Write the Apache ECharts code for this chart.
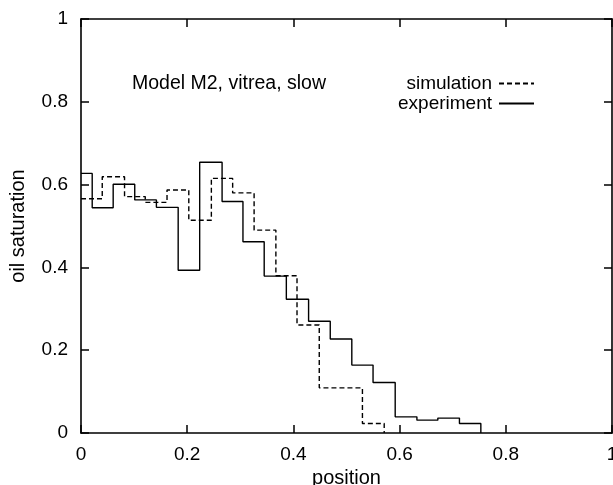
<!DOCTYPE html>
<html>
<head>
<meta charset="utf-8">
<script src="https://cdn.jsdelivr.net/npm/echarts@6/dist/echarts.min.js"></script>
<style>
  html, body { margin: 0; padding: 0; background: #fff; }
  #main { width: 613px; height: 485px; }
</style>
</head>
<body>
<div id="main"></div>
<script>
// bin left edges (last entry = right edge of last bin) and oil saturation per bin
var simEdges = [0, 0.04, 0.082, 0.121, 0.162, 0.203, 0.2455, 0.2856, 0.326, 0.367, 0.4068, 0.4487, 0.490, 0.530, 0.571];
var simValues = [0.566, 0.619, 0.571, 0.557, 0.587, 0.514, 0.615, 0.580, 0.490, 0.380, 0.261, 0.109, 0.109, 0.023];

var expEdges = [0, 0.0211, 0.0606, 0.1012, 0.142, 0.183, 0.2235, 0.2657, 0.305, 0.345, 0.3867, 0.4286, 0.4694, 0.510, 0.550, 0.5917, 0.6326, 0.672, 0.7127, 0.753];
var expValues = [0.627, 0.544, 0.601, 0.563, 0.545, 0.393, 0.654, 0.559, 0.462, 0.379, 0.323, 0.270, 0.227, 0.164, 0.122, 0.039, 0.031, 0.036, 0.023];

function steps(edges, values) {
    return edges.map(function (x, i) {
        return [x, i < values.length ? values[i] : 0];
    });
}

var font = 'Liberation Sans';
var axisLine = { show: true, onZero: false, lineStyle: { color: '#000', width: 1.6 } };
var axisTick = { show: true, inside: true, length: 8, lineStyle: { color: '#000', width: 1.5 } };

var chart = echarts.init(document.getElementById('main'));
chart.setOption({
    animation: false,
    backgroundColor: '#fff',
    title: {
        text: 'Model M2, vitrea, slow',
        left: 132,
        top: 74,
        padding: 0,
        textStyle: { fontFamily: font, fontSize: 19.5, fontWeight: 'normal', color: '#000' }
    },
    legend: {
        orient: 'vertical',
        right: 78,
        top: 74,
        align: 'right',
        padding: 0,
        itemGap: 1,
        itemWidth: 35,
        itemHeight: 18,
        itemStyle: { opacity: 0 },
        textStyle: { fontFamily: font, fontSize: 19, color: '#000', padding: [0, 2, 0, 0] },
        data: ['simulation', 'experiment']
    },
    grid: { left: 81, right: 1, top: 19, bottom: 52, containLabel: false, outerBoundsMode: 'none' },
    xAxis: [{
        type: 'value', min: 0, max: 1, interval: 0.2,
        position: 'bottom',
        name: 'position', nameLocation: 'middle', nameGap: 26,
        nameTextStyle: { fontFamily: font, fontSize: 20, color: '#000' },
        axisLine: axisLine, axisTick: axisTick,
        axisLabel: { fontFamily: font, fontSize: 19, color: '#000', margin: 12, showMaxLabel: true },
        splitLine: { show: false }
    }, {
        type: 'value', min: 0, max: 1, interval: 0.2,
        position: 'top',
        axisLine: axisLine, axisTick: axisTick,
        axisLabel: { show: false },
        splitLine: { show: false }
    }],
    yAxis: [{
        type: 'value', min: 0, max: 1, interval: 0.2,
        position: 'left',
        name: 'oil saturation', nameLocation: 'middle', nameGap: 53,
        nameTextStyle: { fontFamily: font, fontSize: 20, color: '#000' },
        axisLine: axisLine, axisTick: axisTick,
        axisLabel: { fontFamily: font, fontSize: 19, color: '#000', margin: 13 },
        splitLine: { show: false }
    }, {
        type: 'value', min: 0, max: 1, interval: 0.2,
        position: 'right',
        axisLine: axisLine, axisTick: axisTick,
        axisLabel: { show: false },
        splitLine: { show: false }
    }],
    series: [{
        name: 'simulation',
        type: 'line',
        step: 'end',
        symbol: 'none',
        color: '#000',
        lineStyle: { color: '#000', width: 1.4, type: [5, 3] },
        data: steps(simEdges, simValues)
    }, {
        name: 'experiment',
        type: 'line',
        step: 'end',
        symbol: 'none',
        color: '#000',
        lineStyle: { color: '#000', width: 1.4 },
        data: steps(expEdges, expValues)
    }]
});
</script>
</body>
</html>
